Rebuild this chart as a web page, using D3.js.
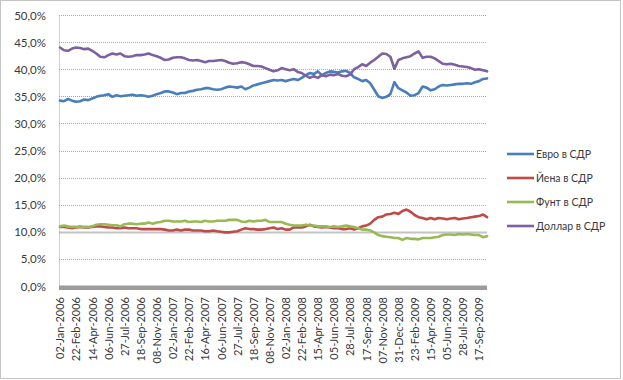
<!DOCTYPE html>
<html><head><meta charset="utf-8">
<script src="https://cdn.jsdelivr.net/npm/d3@7"></script>
<style>
html,body{margin:0;padding:0;background:#fff;}
svg{display:block;}
text{font-family:Lato,"Open Sans",sans-serif;fill:#3a3a3a;}
</style></head>
<body>
<script>
const tickLabels = ["02-Jan-2006","22-Feb-2006","14-Apr-2006","06-Jun-2006","27-Jul-2006","18-Sep-2006","08-Nov-2006","02-Jan-2007","22-Feb-2007","16-Apr-2007","06-Jun-2007","27-Jul-2007","18-Sep-2007","08-Nov-2007","02-Jan-2008","22-Feb-2008","15-Apr-2008","05-Jun-2008","28-Jul-2008","17-Sep-2008","07-Nov-2008","31-Dec-2008","23-Feb-2009","15-Apr-2009","05-Jun-2009","28-Jul-2009","17-Sep-2009"];
const samplesPerLabel = 4;
const yTicks = [0,5,10,15,20,25,30,35,40,45,50];
const seriesNames = ["Евро в СДР","Йена в СДР","Фунт в СДР","Доллар в СДР"];
const seriesColors = ["#4a7ebb","#be4b48","#98b954","#7d60a0"];

const euro = [34.2,34.1,34.5,34.2,34.0,34.1,34.4,34.3,34.6,34.9,
 35.1,35.2,35.4,34.9,35.2,35.0,35.1,35.2,35.3,35.1,
 35.2,35.1,34.9,35.1,35.4,35.6,35.9,35.9,35.7,35.4,
 35.6,35.6,35.9,36.0,36.2,36.3,36.5,36.5,36.3,36.2,
 36.3,36.6,36.8,36.7,36.6,36.8,36.3,36.6,37.0,37.2,
 37.4,37.6,37.8,38.0,
 37.9,38.0,37.8,38.0,38.2,38.0,38.4,38.9,39.3,39.1,
 39.6,38.9,39.3,39.6,39.5,39.4,39.6,39.7,39.3,38.5,
 38.2,37.8,38.0,37.4,36.2,35.0,34.7,34.9,35.4,37.6,
 36.5,36.1,35.7,35.1,35.2,35.6,36.8,36.6,36.1,36.3,
 36.8,37.1,37.0,37.1,37.2,37.3,37.3,37.4,37.3,37.6,
 37.8,38.2,38.3];
const yen = [10.9,10.9,10.8,10.65,10.8,10.9,10.8,10.8,10.9,11.0,
 11.0,10.9,10.8,10.8,10.65,10.65,10.8,10.65,10.65,10.65,
 10.5,10.5,10.5,10.5,10.5,10.5,10.4,10.25,10.25,10.4,
 10.25,10.4,10.4,10.25,10.25,10.25,10.1,10.1,10.25,10.1,
 10.0,9.9,9.9,10.0,10.1,10.4,10.65,10.5,10.5,10.4,
 10.4,10.5,10.65,10.8,
 10.5,10.65,10.4,10.4,10.8,10.8,10.8,11.0,11.3,11.0,
 10.9,10.8,10.9,10.8,10.65,10.65,10.5,10.5,10.65,10.4,
 10.65,11.0,11.15,11.5,12.2,12.7,12.8,13.2,13.3,13.5,
 13.3,13.85,14.1,13.7,13.1,12.7,12.55,12.3,12.55,12.3,
 12.55,12.45,12.3,12.45,12.55,12.3,12.45,12.55,12.7,12.8,
 12.9,13.2,12.7];
const pound = [11.0,11.15,11.0,10.9,10.9,11.0,10.9,10.9,11.0,11.3,
 11.4,11.4,11.3,11.2,11.2,11.0,11.4,11.5,11.5,11.4,
 11.5,11.5,11.7,11.5,11.7,11.8,12.05,12.05,11.9,11.9,
 11.9,12.05,11.8,11.9,11.9,11.8,12.05,11.9,11.9,12.05,
 12.05,12.05,12.2,12.2,12.2,11.9,11.8,12.05,11.9,12.05,
 12.05,12.2,11.8,11.8,
 11.8,11.8,11.5,11.3,11.15,11.15,11.15,11.3,11.15,11.15,
 11.0,11.0,11.0,10.9,11.0,10.9,11.0,11.15,11.0,10.9,
 10.65,10.4,10.4,10.25,9.9,9.4,9.2,9.1,9.0,8.85,
 8.85,8.5,8.85,8.7,8.7,8.6,8.85,8.85,8.85,9.0,
 9.1,9.4,9.5,9.5,9.4,9.6,9.5,9.6,9.5,9.4,
 9.4,9.0,9.2];
const dollar = [44.0,43.5,43.4,43.8,44.0,43.9,43.7,43.8,43.4,42.9,
 42.3,42.2,42.6,42.9,42.7,42.9,42.4,42.3,42.4,42.6,
 42.6,42.7,42.9,42.6,42.4,42.1,41.7,41.8,42.1,42.2,
 42.2,42.0,41.7,41.6,41.7,41.5,41.3,41.5,41.5,41.6,
 41.7,41.5,41.2,41.0,41.1,41.3,41.2,40.9,40.6,40.6,
 40.5,40.2,39.9,39.6,
 39.8,40.2,40.0,39.8,40.0,39.5,39.3,38.8,38.4,38.7,
 38.4,38.9,38.7,39.0,38.9,39.1,38.8,38.7,39.0,40.0,
 40.4,40.9,40.6,41.2,41.7,42.3,42.9,42.8,42.3,40.1,
 41.7,42.0,42.2,42.4,42.9,43.3,42.1,42.3,42.3,42.0,
 41.5,41.0,40.9,41.0,40.8,40.6,40.5,40.4,40.2,39.9,
 40.0,39.8,39.6];
const seriesValues = [euro, yen, pound, dollar];

const W = 623, H = 380;
const svg = d3.select("body").append("svg").attr("width", W).attr("height", H);

// chart border
svg.append("rect").attr("x",0.5).attr("y",0.5).attr("width",620).attr("height",378)
  .attr("fill","none").attr("stroke","#8a8a8a").attr("stroke-dasharray","1,1");

const x = d3.scaleLinear().domain([0, tickLabels.length - 1]).range([60, 479]);
const y = d3.scaleLinear().domain([0, 50]).range([286, 15]);
const plotRight = 487;

// gridlines
svg.append("g").selectAll("line").data(yTicks.filter(d => d > 0)).join("line")
  .attr("x1", 59).attr("x2", plotRight)
  .attr("y1", d => Math.round(y(d)) + 0.5).attr("y2", d => Math.round(y(d)) + 0.5)
  .attr("stroke", d => d === 10 ? "#c4c4c4" : "#a8a8a8")
  .attr("stroke-width", d => d === 10 ? 2 : 1)
  .attr("stroke-dasharray", d => d === 10 ? null : "1,1");

// y axis
const yAxis = d3.axisLeft(y).tickValues(yTicks).tickSize(0).tickPadding(13)
  .tickFormat(d => d3.format(".1f")(d).replace(".", ",") + "%");
const gy = svg.append("g").attr("transform", "translate(59,0)").call(yAxis);
gy.select(".domain").attr("stroke", "#a0a0a0").attr("stroke-dasharray", "1,1");
gy.selectAll("text").attr("font-size", 11.5).attr("font-family", "Lato").attr("fill", "#3a3a3a").attr("dy","0.35em");

// zero axis band
svg.append("rect").attr("x", 59).attr("y", 285.5).attr("width", plotRight - 59).attr("height", 4.5)
  .attr("fill", "#9c9c9c");

// x axis labels
const xAxis = d3.axisBottom(x).tickValues(d3.range(tickLabels.length)).tickSize(0).tickPadding(0)
  .tickFormat(i => tickLabels[i]);
const gx = svg.append("g").attr("transform", "translate(0,297)").call(xAxis);
gx.select(".domain").remove();
gx.selectAll("text").attr("font-size", 11).attr("font-family", "Lato").attr("fill", "#3a3a3a")
  .attr("text-anchor", "end").attr("dy", "0.35em").attr("dx", 0).attr("y", 0)
  .attr("transform", "rotate(-90)");

// lines
const line = d3.line().x((d, i) => x(i / samplesPerLabel)).y(d => y(d));
svg.append("g").selectAll("path").data(seriesValues).join("path")
  .attr("d", d => line(d)).attr("fill", "none")
  .attr("stroke", (d, i) => seriesColors[i]).attr("stroke-width", 2.6)
  .attr("stroke-linejoin", "round").attr("stroke-linecap", "round");

// legend
const lg = svg.append("g").selectAll("g").data(seriesNames).join("g")
  .attr("transform", (d, i) => `translate(507,${154 + i * 24})`);
lg.append("line").attr("x1", 0).attr("x2", 27).attr("y1", 0).attr("y2", 0)
  .attr("stroke", (d, i) => seriesColors[i]).attr("stroke-width", 2.6);
lg.append("text").attr("x", 29).attr("y", 0).attr("dy", "0.35em")
  .attr("font-size", 10.5).attr("font-family", "Lato").text(d => d);
</script>
</body></html>
